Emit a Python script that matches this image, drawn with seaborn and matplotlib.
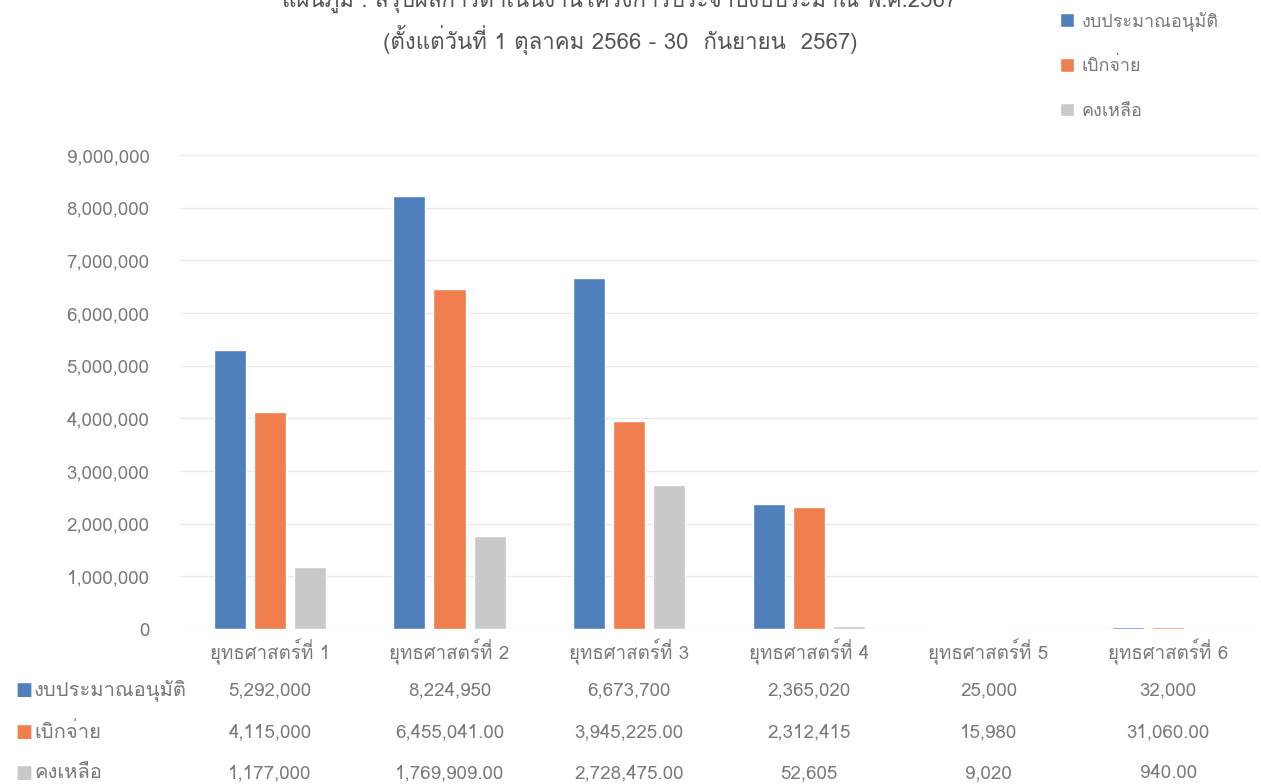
import numpy as np
import pandas as pd
import matplotlib
matplotlib.use("Agg")
import matplotlib.pyplot as plt
import seaborn as sns
from matplotlib import font_manager
from matplotlib.ft2font import FT2Font

# --- data ---
categories = ["ยุทธศาสตร์ที่ 1", "ยุทธศาสตร์ที่ 2", "ยุทธศาสตร์ที่ 3",
              "ยุทธศาสตร์ที่ 4", "ยุทธศาสตร์ที่ 5", "ยุทธศาสตร์ที่ 6"]
series_names = ["งบประมาณอนุมัติ", "เบิกจ่าย", "คงเหลือ"]
approved = [5292000, 8224950, 6673700, 2365020, 25000, 32000]
spent = [4115000, 6455041, 3945225, 2312415, 15980, 31060]
remaining = [1177000, 1769909, 2728475, 52605, 9020, 940]
# decimals shown in the data table under the chart
approved_dec = [0, 0, 0, 0, 0, 0]
spent_dec = [0, 2, 2, 0, 0, 2]
remaining_dec = [0, 2, 2, 0, 0, 2]
y_ticks = list(range(0, 9000001, 1000000))

title_1 = "แผนภูมิ : สรุปผลการดำเนินงานโครงการประจำปีงบประมาณ พ.ศ.2567"
title_2 = "(ตั้งแต่วันที่ 1 ตุลาคม 2566 - 30  กันยายน  2567)"

colors = ["#4F80BC", "#F07E4F", "#C9C9C9"]
grey_txt = "#7A7A7A"

sns.set_theme(style="white")

# find a font that has Thai glyphs, fall back to DejaVu
thai_font = None
for f in font_manager.fontManager.ttflist:
    try:
        if 0x0E01 in FT2Font(f.fname).get_charmap():
            thai_font = f.name
            break
    except Exception:
        pass
families = [thai_font, "DejaVu Sans"] if thai_font else ["DejaVu Sans"]
plt.rcParams["font.family"] = families

df = pd.DataFrame({
    "category": categories * 3,
    "series": [s for s in series_names for _ in categories],
    "value": approved + spent + remaining,
})

fig = plt.figure(figsize=(12.61, 7.84), dpi=100)
W, H = 1261, 784
ax = fig.add_axes([180 / W, 1 - 629 / H, 1078 / W, 474 / H])

sns.barplot(data=df, x="category", y="value", hue="series",
            palette=colors, width=0.67, gap=0.2, ax=ax, saturation=1)

ax.set_ylim(0, 9000000)
ax.set_yticks(y_ticks)
ax.set_yticklabels([f"{v:,}" for v in y_ticks])
ax.set_xlabel("")
ax.set_ylabel("")
ax.tick_params(axis="both", colors=grey_txt, labelsize=13.5, length=0)
ax.tick_params(axis="y", pad=22)
ax.tick_params(axis="x", pad=7)
ax.yaxis.grid(True, color="#EAEAEA", linewidth=1)
ax.set_axisbelow(True)
for sp in ax.spines.values():
    sp.set_visible(False)

# legend in the top right corner
sns.move_legend(ax, "upper left", bbox_to_anchor=(1044 / W, 1 + 5 / H),
                bbox_transform=fig.transFigure, frameon=False, title=None,
                fontsize=13, handlelength=0.75, handleheight=0.75,
                handletextpad=0.45, labelspacing=1.45, labelcolor=grey_txt)

# titles (first line is cut at the top edge, as in the source)
fig.text(620 / W, 1 + 1 / H, title_1, ha="center", va="center",
         fontsize=16, color="#555555")
fig.text(620 / W, 1 - 40 / H, title_2, ha="center", va="center",
         fontsize=16, color="#555555")

# data table below the categories
rows = [(approved, approved_dec), (spent, spent_dec), (remaining, remaining_dec)]
row_y = [690, 732, 773]
trans = matplotlib.transforms.blended_transform_factory(ax.transData, fig.transFigure)
for (vals, decs), name, col, yp in zip(rows, series_names, colors, row_y):
    fy = 1 - yp / H
    fig.text(15 / W, fy, "■", ha="left", va="center", fontsize=13,
             color=col, family="DejaVu Sans")
    fig.text(34 / W, fy, name, ha="left", va="center", fontsize=14.5,
             color=grey_txt)
    for i, (v, d) in enumerate(zip(vals, decs)):
        ax.text(i, fy, f"{v:,.{d}f}", ha="center", va="center",
                fontsize=13.5, color=grey_txt, transform=trans)

fig.savefig("out.png", dpi=100)
